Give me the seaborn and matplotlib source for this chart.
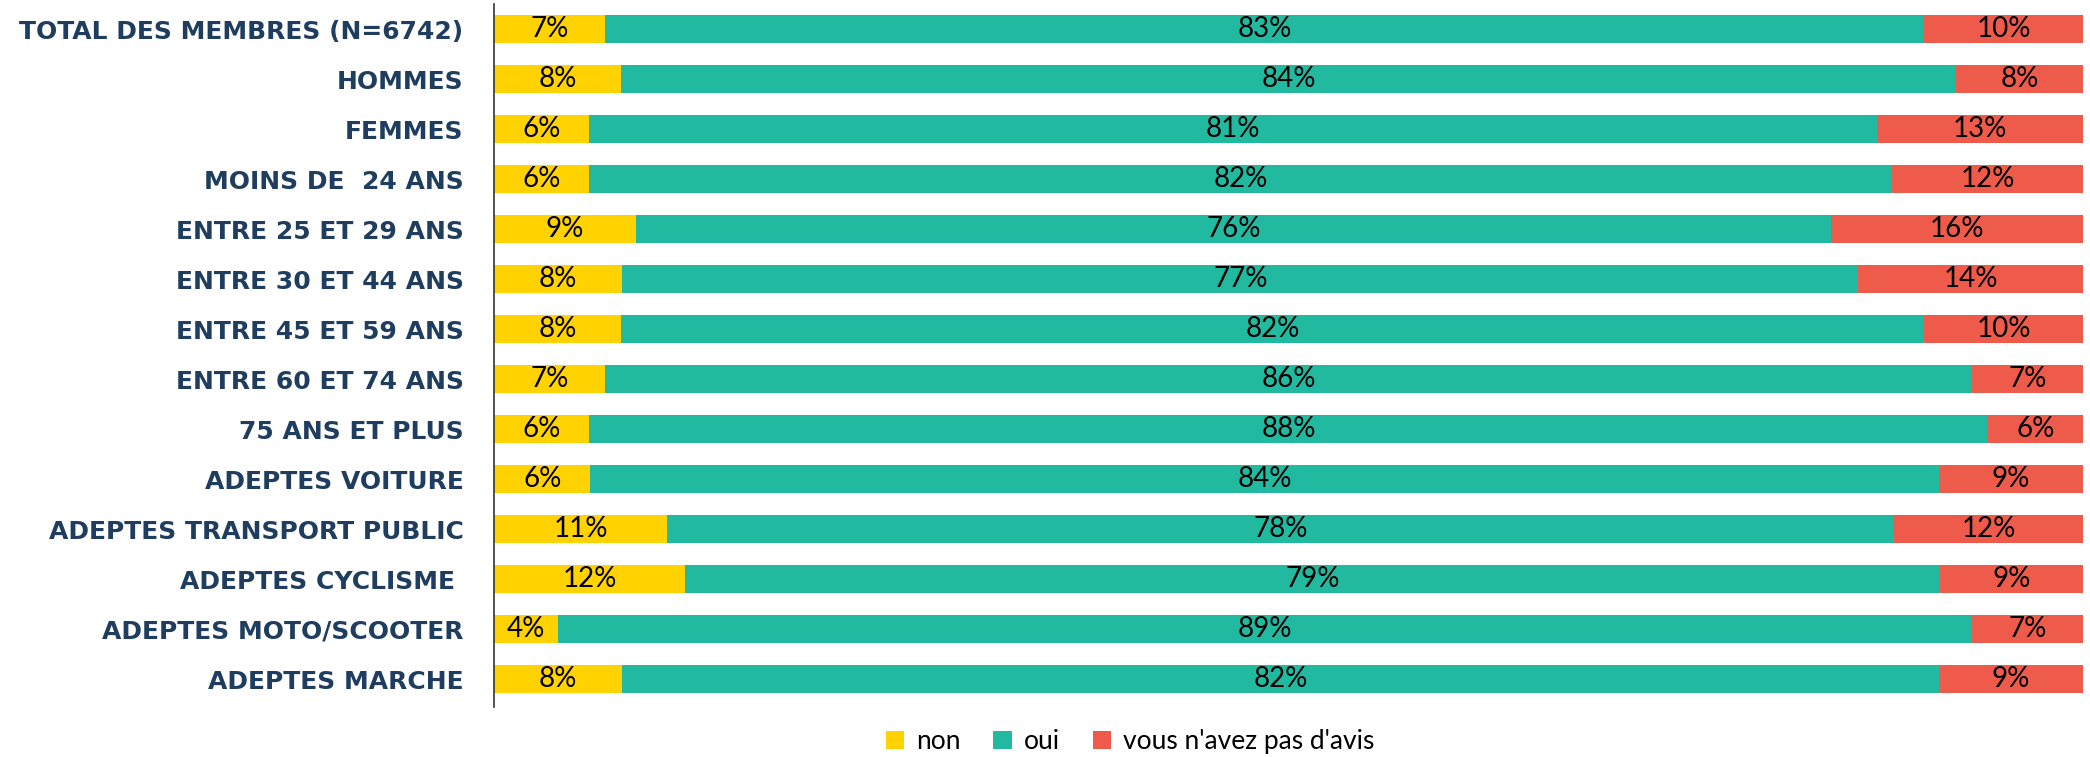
import numpy as np
import pandas as pd
import matplotlib
matplotlib.use("Agg")
import matplotlib.pyplot as plt
import seaborn as sns
from matplotlib.patches import Patch

categories = [
    "TOTAL DES MEMBRES (N=6742)", "HOMMES", "FEMMES", "MOINS DE  24 ANS",
    "ENTRE 25 ET 29 ANS", "ENTRE 30 ET 44 ANS", "ENTRE 45 ET 59 ANS",
    "ENTRE 60 ET 74 ANS", "75 ANS ET PLUS", "ADEPTES VOITURE",
    "ADEPTES TRANSPORT PUBLIC", "ADEPTES CYCLISME ", "ADEPTES MOTO/SCOOTER",
    "ADEPTES MARCHE",
]
non = [7, 8, 6, 6, 9, 8, 8, 7, 6, 6, 11, 12, 4, 8]
oui = [83, 84, 81, 82, 76, 77, 82, 86, 88, 84, 78, 79, 89, 82]
sans_avis = [10, 8, 13, 12, 16, 14, 10, 7, 6, 9, 12, 9, 7, 9]
series_names = ["non", "oui", "vous n'avez pas d'avis"]
colors = ["#FFD200", "#21B9A0", "#EF5B4A"]

df = pd.DataFrame({"cat": categories, "non": non, "oui": oui, "avis": sans_avis})
tot = df[["non", "oui", "avis"]].sum(axis=1)
df["p_non"] = df["non"] / tot * 100
df["p_oui"] = df["oui"] / tot * 100
df["p_avis"] = df["avis"] / tot * 100
df["c1"] = df["p_non"]
df["c2"] = df["p_non"] + df["p_oui"]
df["c3"] = df["c2"] + df["p_avis"]

fig = plt.figure(figsize=(20.9, 7.57), dpi=100)
ax = fig.add_axes([0.2364, 0.066, 0.7603, 0.9287])

# stacked by overdrawing cumulative totals
for col, c in zip(["c3", "c2", "c1"], colors[::-1]):
    sns.barplot(data=df, x=col, y="cat", orient="h", color=c, width=0.56,
                saturation=1, ax=ax, edgecolor="none")

for i, row in df.iterrows():
    starts = [0, row["c1"], row["c2"]]
    widths = [row["p_non"], row["p_oui"], row["p_avis"]]
    raw = [row["non"], row["oui"], row["avis"]]
    for s, w, v in zip(starts, widths, raw):
        ax.text(s + w / 2, i, f"{v}%", ha="center", va="center",
                fontsize=20, family="Lato", color="black")

ax.set_xlim(0, 100)
ax.set_ylim(13.56, -0.5)
ax.set_xlabel("")
ax.set_ylabel("")
ax.set_xticks([])
for s in ["top", "right", "bottom"]:
    ax.spines[s].set_visible(False)
ax.spines["left"].set_color("#333333")
ax.spines["left"].set_linewidth(1.2)
ax.tick_params(axis="y", length=0, pad=22)
for lbl in ax.get_yticklabels():
    lbl.set_fontsize(18)
    lbl.set_fontweight("bold")
    lbl.set_family("DejaVu Sans")
    lbl.set_color("#1F3D5F")

handles = [Patch(facecolor=c, edgecolor="none") for c in colors]
fig.legend(handles, series_names, loc="center", bbox_to_anchor=(0.5407, 0.02),
           ncol=3, frameon=False, prop={"family": "Lato", "size": 19},
           handlelength=0.7, handleheight=0.7, columnspacing=1.25, handletextpad=0.45)

fig.savefig("out.png", dpi=100)
